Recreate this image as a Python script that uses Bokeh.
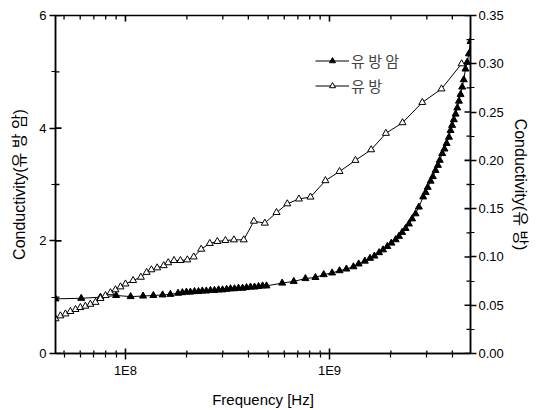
from bokeh.plotting import figure
from bokeh.models import (Range1d, LinearAxis, FixedTicker, CustomJSTickFormatter,
                          NumeralTickFormatter, Legend, LegendItem)
from bokeh.embed import file_html
from bokeh.resources import INLINE

# 유방암 (breast cancer) — left axis
freq_cancer = [4.54e7, 6.07e7, 7.54e7, 9.0e7, 1.06e8, 1.22e8, 1.37e8, 1.52e8, 1.66e8, 1.81e8,
               1.90e8, 1.99e8, 2.08e8, 2.18e8, 2.28e8, 2.38e8, 2.49e8, 2.61e8, 2.73e8, 2.86e8,
               2.99e8, 3.13e8, 3.27e8, 3.42e8, 3.58e8, 3.75e8, 3.92e8, 4.10e8, 4.29e8, 4.49e8,
               4.70e8, 4.91e8, 5.86e8, 6.68e8, 7.62e8, 8.53e8, 9.37e8, 1.03e9, 1.12e9, 1.21e9,
               1.31e9, 1.39e9, 1.49e9, 1.58e9, 1.66e9, 1.75e9, 1.83e9, 1.92e9, 2.01e9, 2.11e9,
               2.19e9, 2.27e9, 2.36e9, 2.45e9, 2.54e9, 2.64e9, 2.74e9, 2.88e9, 2.96e9, 3.03e9,
               3.13e9, 3.21e9, 3.31e9, 3.40e9, 3.47e9, 3.57e9, 3.66e9, 3.75e9, 3.85e9, 3.92e9,
               3.99e9, 4.07e9, 4.15e9, 4.23e9, 4.31e9, 4.39e9, 4.47e9, 4.55e9, 4.64e9, 4.73e9,
               4.82e9, 4.91e9]
cond_cancer = [0.97, 0.98, 1.00, 1.03, 1.01, 1.02, 1.03, 1.04, 1.05, 1.07,
               1.08, 1.09, 1.09, 1.10, 1.10, 1.11, 1.11, 1.12, 1.12, 1.13,
               1.13, 1.14, 1.15, 1.15, 1.16, 1.16, 1.17, 1.18, 1.18, 1.19,
               1.20, 1.20, 1.25, 1.28, 1.33, 1.35, 1.40, 1.43, 1.47, 1.50,
               1.54, 1.59, 1.64, 1.69, 1.73, 1.79, 1.84, 1.90, 1.96, 2.02,
               2.08, 2.15, 2.22, 2.30, 2.39, 2.48, 2.60, 2.78, 2.86, 2.95,
               3.06, 3.14, 3.25, 3.34, 3.43, 3.55, 3.63, 3.73, 3.84, 3.96,
               4.05, 4.15, 4.25, 4.36, 4.48, 4.60, 4.73, 4.86, 5.05, 5.17,
               5.32, 5.54]

# 유방 (normal breast) — right axis
freq_normal = [4.54e7, 4.80e7, 5.08e7, 5.37e7, 5.69e7, 6.01e7, 6.36e7, 6.73e7, 7.13e7, 7.54e7,
               7.98e7, 8.44e7, 8.93e7, 9.45e7, 1.0e8, 1.09e8, 1.19e8, 1.27e8, 1.34e8, 1.43e8,
               1.54e8, 1.62e8, 1.73e8, 1.86e8, 2.01e8, 2.16e8, 2.35e8, 2.59e8, 2.82e8, 3.09e8,
               3.40e8, 3.80e8, 4.26e8, 4.82e8, 5.50e8, 6.21e8, 7.08e8, 8.07e8, 9.55e8, 1.12e9,
               1.34e9, 1.60e9, 1.89e9, 2.28e9, 2.85e9, 3.54e9, 4.44e9]
cond_normal = [0.036, 0.039, 0.041, 0.0435, 0.0456, 0.0476, 0.049, 0.051, 0.053, 0.057,
               0.060, 0.063, 0.066, 0.069, 0.072, 0.0756, 0.079, 0.084, 0.0867, 0.0887,
               0.091, 0.094, 0.0963, 0.0963, 0.097, 0.100, 0.108, 0.114, 0.116, 0.117,
               0.1177, 0.1177, 0.137, 0.135, 0.146, 0.155, 0.160, 0.162, 0.179, 0.1885,
               0.200, 0.211, 0.228, 0.239, 0.260, 0.274, 0.300]

left_ticks = [0, 2, 4, 6]
left_minor = [1, 3, 5]
right_ticks = [0, 0.05, 0.10, 0.15, 0.20, 0.25, 0.30, 0.35]
right_minor = [0.025, 0.075, 0.125, 0.175, 0.225, 0.275, 0.325]
x_ticks = [1e8, 1e9]
x_minor = [5e7, 6e7, 7e7, 8e7, 9e7, 2e8, 3e8, 4e8, 5e8, 6e8, 7e8, 8e8, 9e8, 2e9, 3e9, 4e9]

X0, X1 = 4.54e7, 4.91e9
YL0, YL1 = 0, 6
YR0, YR1 = 0, 0.35
FW, FH = 415, 338          # frame size in px
FONT = "Liberation Sans, Noto Sans CJK KR"

p = figure(width=536, height=410, x_axis_type="log",
           x_range=Range1d(X0, X1), y_range=Range1d(YL0, YL1),
           output_backend="svg", toolbar_location=None,
           min_border_left=55, min_border_right=66, min_border_top=15, min_border_bottom=57)
p.extra_y_ranges = {"right": Range1d(YR0, YR1)}
p.grid.visible = False
p.outline_line_color = "black"
p.outline_line_width = 1.5
p.background_fill_color = "white"
p.border_fill_color = "white"

def style_axis(ax, label_size="16px"):
    ax.axis_line_color = "black"
    ax.axis_line_width = 1.5
    ax.major_tick_out = 6
    ax.major_tick_in = 0
    ax.minor_tick_out = 4
    ax.minor_tick_in = 0
    ax.major_tick_line_width = 1.5
    ax.minor_tick_line_width = 1.2
    ax.major_label_text_font = FONT
    ax.major_label_text_font_size = "13px"
    ax.major_label_text_color = "black"
    ax.axis_label_text_font = FONT
    ax.axis_label_text_font_size = label_size
    ax.axis_label_text_font_style = "normal"
    ax.axis_label_text_color = "black"

xa = p.xaxis[0]
xa.ticker = FixedTicker(ticks=x_ticks, minor_ticks=x_minor)
xa.formatter = CustomJSTickFormatter(code="return '1E' + Math.round(Math.log10(tick));")
xa.axis_label = "Frequency [Hz]"
style_axis(xa, "15px")
xa.major_label_standoff = 3
xa.axis_label_standoff = 10

ya = p.yaxis[0]
ya.ticker = FixedTicker(ticks=left_ticks, minor_ticks=left_minor)
ya.axis_label = "Conductivity(유 방 암)"
style_axis(ya, "16px")
ya.major_label_standoff = 3
ya.axis_label_standoff = 8

yr = LinearAxis(y_range_name="right",
                ticker=FixedTicker(ticks=right_ticks, minor_ticks=right_minor),
                formatter=NumeralTickFormatter(format="0.00"),
                axis_label="Conductivity(유 방)")
style_axis(yr, "16px")
yr.major_label_standoff = 2
yr.axis_label_standoff = 5
p.add_layout(yr, "right")

# inward tick marks drawn from the tick arrays through the plot's scales
def px_x(n):   # factor for n px along the log x axis
    return (X1 / X0) ** (n / FW)

def px_yl(n):
    return (YL1 - YL0) * n / FH

tick_kw = dict(line_color="black")
for ticks, ln, w in ((x_ticks, 6, 1.6), (x_minor, 4, 1.3)):
    n = len(ticks)
    p.segment(x0=ticks, y0=[YL1] * n, x1=ticks, y1=[YL1 - px_yl(ln)] * n, line_width=w, **tick_kw)
    p.segment(x0=ticks, y0=[YL0] * n, x1=ticks, y1=[YL0 + px_yl(ln - 1)] * n, line_width=w, **tick_kw)
for ticks, ln, w in ((left_ticks, 6, 1.6), (left_minor, 4, 1.3)):
    n = len(ticks)
    p.segment(x0=[X0] * n, y0=ticks, x1=[X0 * px_x(ln)] * n, y1=ticks, line_width=w, **tick_kw)
for ticks, ln, w in ((right_ticks, 6, 1.6), (right_minor, 4, 1.3)):
    n = len(ticks)
    p.segment(x0=[X1] * n, y0=ticks, x1=[X1 / px_x(ln)] * n, y1=ticks, line_width=w,
              y_range_name="right", **tick_kw)

r1l = p.line(freq_cancer, cond_cancer, line_color="black", line_width=1)
r1m = p.scatter(freq_cancer, cond_cancer, marker="triangle", size=7,
                fill_color="black", line_color="black")
r2l = p.line(freq_normal, cond_normal, line_color="black", line_width=1, y_range_name="right")
r2m = p.scatter(freq_normal, cond_normal, marker="triangle", size=7,
                fill_color="white", line_color="black", line_width=1, y_range_name="right")

legend = Legend(items=[LegendItem(label="유 방 암", renderers=[r1l, r1m]),
                       LegendItem(label="유 방", renderers=[r2l, r2m])],
                location=(258, 255), border_line_alpha=0, background_fill_alpha=0,
                label_text_font="Noto Sans CJK KR", label_text_font_size="15px",
                glyph_width=34, glyph_height=15, spacing=4, padding=2, margin=0,
                label_standoff=2)
p.add_layout(legend, "center")

open("out.html", "w").write(file_html(p, INLINE))
